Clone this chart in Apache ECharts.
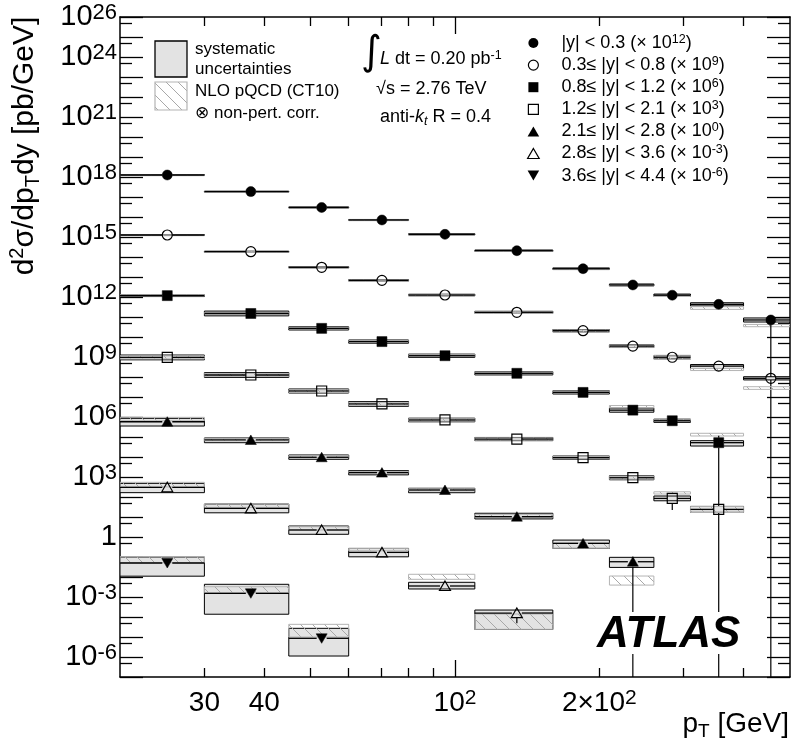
<!DOCTYPE html>
<html>
<head>
<meta charset="utf-8">
<script src="https://cdn.jsdelivr.net/npm/echarts@6/dist/echarts.min.js"></script>
<style>
html,body{margin:0;padding:0;background:#fff;}
#chart{width:793px;height:753px;}
</style>
</head>
<body>
<div id="chart"></div>
<script>
// ---------------- data ----------------
const binLo   = [20, 30, 45, 60, 80, 110, 160, 210, 260, 310, 400];
const binHi   = [30, 45, 60, 80, 110, 160, 210, 260, 310, 400, 500];
const binMean = [25.1, 37.5, 52.7, 70.4, 95.3, 134.6, 185, 235, 284, 355, 456];

const rapidityText = ['|y| < 0.3', '0.3\u2264 |y| < 0.8', '0.8\u2264 |y| < 1.2', '1.2\u2264 |y| < 2.1',
                      '2.1\u2264 |y| < 2.8', '2.8\u2264 |y| < 3.6', '3.6\u2264 |y| < 4.4'];
const scaleExp = ['12', '9', '6', '3', '0', '-3', '-6'];

// cross sections d2sigma/dpTdy [pb/GeV] (already multiplied by the scale factor)
const xs1 = [1.26e18, 1.86e17, 3.0e16, 7.1e15, 1.36e15, 2.07e14, 2.6e13, 4.0e12, 1.23e12, 4.3e11, 7.1e10];
const xs2 = [1.26e15, 1.84e14, 3.05e13, 6.8e12, 1.26e12, 1.72e11, 2.07e10, 3.5e9, 9.7e8, 3.5e8, 8.6e7];
const xs3 = [1.17e12, 1.5e11, 2.7e10, 5.9e9, 1.16e9, 1.53e8, 1.7e7, 2.2e6, 6.5e5, 5.2e4];
const xs4 = [9.5e8, 1.26e8, 2.0e7, 4.5e6, 7.1e5, 7.9e4, 9.3e3, 9.2e2, 85, 24];
const xs5 = [5.8e5, 7.1e4, 9.7e3, 1.66e3, 224, 10.4, 0.48, 0.058];
const xs6 = [305, 27, 2.24, 0.17, 3.55e-3, 1.58e-4];
const xs7 = [0.050, 1.53e-3, 8.6e-6];

// systematic uncertainties [%] (up / down)
const sysUp1 = [5, 5, 6, 6, 7, 8, 9, 12, 14, 20, 26];
const sysDn1 = [5, 5, 6, 6, 7, 8, 9, 11, 13, 17, 21];
const sysUp2 = [5, 6, 7, 8, 9, 12, 14, 16, 20, 20, 20];
const sysDn2 = [5, 6, 7, 8, 9, 11, 13, 15, 18, 24, 17];
const sysUp3 = [10, 32, 20, 20, 20, 20, 20, 26, 20, 26];
const sysDn3 = [10, 24, 17, 17, 17, 17, 17, 21, 17, 32];
const sysUp4 = [32, 32, 26, 32, 23, 20, 20, 26, 32, 41];
const sysDn4 = [24, 24, 21, 24, 19, 17, 17, 21, 24, 29];
const sysUp5 = [48, 26, 30, 26, 22, 48, 46, 66];
const sysDn5 = [39, 27, 21, 23, 27, 23, 44, 48];
const sysUp6 = [58, 64, 58, 58, 53, 41];
const sysDn6 = [46, 40, 39, 40, 29, 85];
const sysUp7 = [100, 182, 216];
const sysDn7 = [78, 91, 87];

// NLO pQCD x non-pert. corr. band, as ratio to data (low / high)
const nloLo1 = [0.92, 0.92, 0.92, 0.92, 0.92, 0.92, 0.90, 0.88, 0.86, 0.56, 0.46];
const nloHi1 = [1.02, 1.02, 1.02, 1.02, 1.02, 1.02, 1.00, 0.98, 0.96, 0.76, 0.60];
const nloLo2 = [0.92, 0.92, 0.90, 0.90, 0.90, 0.88, 0.86, 0.87, 0.79, 0.60, 0.28];
const nloHi2 = [1.03, 1.04, 1.05, 1.06, 1.06, 1.08, 1.10, 1.12, 1.26, 0.76, 0.38];
const nloLo3 = [0.95, 0.95, 0.95, 0.95, 0.95, 0.95, 0.95, 1.30, 0.95, 2.16];
const nloHi3 = [1.10, 1.12, 1.12, 1.12, 1.12, 1.15, 1.15, 1.70, 1.20, 2.95];
const nloLo4 = [0.85, 0.85, 0.85, 0.85, 0.88, 0.88, 0.88, 0.85, 1.66, 0.70];
const nloHi4 = [1.20, 1.20, 1.15, 1.20, 1.15, 1.15, 1.15, 1.20, 2.14, 1.40];
const nloLo5 = [1.12, 0.90, 0.95, 0.95, 0.90, 0.90, 0.57, 0.068];
const nloHi5 = [1.66, 1.20, 1.20, 1.15, 1.15, 1.30, 1.05, 0.193];
const nloLo6 = [1.05, 1.12, 1.00, 1.20, 2.16, 0.153];
const nloHi6 = [1.78, 1.64, 1.46, 1.58, 3.85, 0.89];
const nloLo7 = [1.03, 1.07, 1.16];
const nloHi7 = [2.07, 2.14, 5.00];

// statistical uncertainties (fraction, down / up); 1 = reaches zero
const statDn1 = [0, 0, 0, 0, 0, 0, 0, 0, 0, 0, 1];
const statUp1 = [0, 0, 0, 0, 0, 0, 0, 0, 0, 0, 0.6];
const statDn2 = [0, 0, 0, 0, 0, 0, 0, 0, 0, 0, 0];
const statUp2 = [0, 0, 0, 0, 0, 0, 0, 0, 0, 0, 0];
const statDn3 = [0, 0, 0, 0, 0, 0, 0, 0, 0, 1];
const statUp3 = [0, 0, 0, 0, 0, 0, 0, 0, 0, 1.2];
const statDn4 = [0, 0, 0, 0, 0, 0, 0, 0, 0.74, 0];
const statUp4 = [0, 0, 0, 0, 0, 0, 0, 0, 0, 0];
const statDn5 = [0, 0, 0, 0, 0, 0, 0, 1];
const statUp5 = [0, 0, 0, 0, 0, 0, 0, 0.3];
const statDn6 = [0, 0, 0, 0, 0, 0.69];
const statUp6 = [0, 0, 0, 0, 0, 0];
const statDn7 = [0, 0, 0];
const statUp7 = [0, 0, 0];

// axis tick labels
const xLabelValues = [30, 40, 100, 200];
const xMinorTicks = [30, 40, 50, 60, 70, 80, 90, 200, 300, 400];
const xMajorTicks = [100];
const yLabelValues = [1e-6, 1e-3, 1, 1e3, 1e6, 1e9, 1e12, 1e15, 1e18, 1e21, 1e24, 1e26];

const xMin = 20, xMax = 500, yMin = 1e-7, yMax = 1.00001e26;

// ---------------- style ----------------
const FONT = '"Liberation Sans", Arial, Helvetica, "DejaVu Sans", sans-serif';
const markerShape = ['circle', 'circle', 'rect', 'rect', 'triangle', 'triangle', 'triangleDown'];
const markerFilled = [true, false, true, false, true, false, true];

const yDecadeTicks = [];
const yHalfTicks = [];
for (let e = -7; e <= 26; e++) yDecadeTicks.push(Number('1e' + e));
for (let e = -7; e <= 25; e++) yHalfTicks.push(Number('5e' + e));

function makeHatch() {
  const c = document.createElement('canvas');
  c.width = 12; c.height = 12;
  const g = c.getContext('2d');
  g.strokeStyle = '#a8a8a8';
  g.lineWidth = 1;
  g.beginPath();
  g.moveTo(0, 0); g.lineTo(12, 12);
  g.moveTo(-1, 11); g.lineTo(1, 13);
  g.moveTo(11, -1); g.lineTo(13, 1);
  g.stroke();
  return c;
}
const HATCH = { image: makeHatch(), repeat: 'repeat' };

const sets = [
  [xs1, sysUp1, sysDn1, nloLo1, nloHi1, statDn1, statUp1],
  [xs2, sysUp2, sysDn2, nloLo2, nloHi2, statDn2, statUp2],
  [xs3, sysUp3, sysDn3, nloLo3, nloHi3, statDn3, statUp3],
  [xs4, sysUp4, sysDn4, nloLo4, nloHi4, statDn4, statUp4],
  [xs5, sysUp5, sysDn5, nloLo5, nloHi5, statDn5, statUp5],
  [xs6, sysUp6, sysDn6, nloLo6, nloHi6, statDn6, statUp6],
  [xs7, sysUp7, sysDn7, nloLo7, nloHi7, statDn7, statUp7]
];
const names = rapidityText.map((t, i) => t + ' (\u00d7 10^' + scaleExp[i] + ')');

function markerEl(k, cx, cy) {
  const filled = markerFilled[k];
  const st = filled ? { fill: '#000', stroke: '#000', lineWidth: 0.5 }
                    : { fill: 'none', stroke: '#000', lineWidth: 1.2 };
  const s = markerShape[k];
  if (s === 'circle') return { type: 'circle', shape: { cx: cx, cy: cy, r: 5 }, style: st };
  if (s === 'rect') return { type: 'rect', shape: { x: cx - 5, y: cy - 5, width: 10, height: 10 }, style: st };
  if (s === 'triangle') return { type: 'polygon', shape: { points: [[cx, cy - 5], [cx + 5.5, cy + 4.5], [cx - 5.5, cy + 4.5]] }, style: st };
  return { type: 'polygon', shape: { points: [[cx - 5.5, cy - 4.5], [cx + 5.5, cy - 4.5], [cx, cy + 5]] }, style: st };
}

function makeRender(k) {
  return function (params, api) {
    const x0 = api.value(0), x1 = api.value(1), xm = api.value(2), v = api.value(3);
    const su = api.value(4), sd = api.value(5), nl = api.value(6), nh = api.value(7);
    const ed = api.value(8), eu = api.value(9);
    const pl = api.coord([x0, v]), pr = api.coord([x1, v]), pc = api.coord([xm, v]);
    const ySysT = api.coord([xm, v * (1 + su)])[1];
    const ySysB = api.coord([xm, v * (1 - sd)])[1];
    const yNloT = api.coord([xm, v * nh])[1];
    const yNloB = api.coord([xm, v * nl])[1];
    const w = pr[0] - pl[0];
    const ch = [];
    ch.push({ type: 'rect', shape: { x: pl[0], y: ySysT, width: w, height: Math.max(ySysB - ySysT, 0.6) },
              style: { fill: '#e3e3e3', stroke: '#000', lineWidth: 1 } });
    ch.push({ type: 'rect', shape: { x: pl[0], y: yNloT, width: w, height: Math.max(yNloB - yNloT, 0.6) },
              style: { fill: HATCH, stroke: '#b4b4b4', lineWidth: 1 } });
    const g = 5;
    ch.push({ type: 'line', shape: { x1: pl[0], y1: pc[1], x2: pc[0] - g, y2: pc[1] }, style: { stroke: '#000', lineWidth: 1.3 } });
    ch.push({ type: 'line', shape: { x1: pc[0] + g, y1: pc[1], x2: pr[0], y2: pc[1] }, style: { stroke: '#000', lineWidth: 1.3 } });
    if (ed > 0) {
      const yb = ed >= 1 ? api.coord([xm, yMin])[1] : api.coord([xm, v * (1 - ed)])[1];
      ch.push({ type: 'line', shape: { x1: pc[0], y1: pc[1] + g, x2: pc[0], y2: yb }, style: { stroke: '#000', lineWidth: 1.2 } });
    }
    if (eu > 0) {
      const yt = api.coord([xm, v * (1 + eu)])[1];
      ch.push({ type: 'line', shape: { x1: pc[0], y1: pc[1] - g, x2: pc[0], y2: yt }, style: { stroke: '#000', lineWidth: 1.2 } });
    }
    ch.push(markerEl(k, pc[0], pc[1]));
    return { type: 'group', children: ch };
  };
}

const series = sets.map((s, k) => ({
  type: 'custom',
  name: names[k],
  coordinateSystem: 'cartesian2d',
  xAxisIndex: 0,
  yAxisIndex: 0,
  clip: true,
  itemStyle: { color: '#000' },
  renderItem: makeRender(k),
  encode: { x: [0, 1, 2], y: 3 },
  data: s[0].map((v, j) => [binLo[j], binHi[j], binMean[j], v, s[1][j] / 100, s[2][j] / 100, s[3][j], s[4][j], s[5][j], s[6][j]])
}));

const tickLine = { color: '#000', width: 1.3 };
const axisLine = { show: true, lineStyle: { color: '#000', width: 1.5 } };
const noLine = { show: false };

function xAx(pos, ticks, len, withLine, withLabel) {
  return {
    type: 'log', logBase: 10, min: xMin, max: xMax, position: pos,
    axisLine: withLine ? axisLine : noLine,
    axisTick: { show: true, inside: true, length: len, customValues: ticks, lineStyle: tickLine },
    axisLabel: withLabel ? {
      show: true, customValues: xLabelValues, margin: 11,
      formatter: function (v) {
        const r = Math.round(v);
        if (r === 100) return '{b|10}{s|2}';
        if (r === 200) return '{b|2\u00d710}{s|2}';
        return '{b|' + r + '}';
      },
      rich: {
        b: { fontFamily: FONT, fontSize: 28, lineHeight: 30, color: '#000' },
        s: { fontFamily: FONT, fontSize: 21, lineHeight: 16, verticalAlign: 'top', color: '#000' }
      }
    } : { show: false },
    splitLine: { show: false }, minorTick: { show: false }
  };
}
function yAx(pos, ticks, len, withLine, withLabel) {
  return {
    type: 'log', logBase: 10, min: yMin, max: yMax, position: pos,
    axisLine: withLine ? axisLine : noLine,
    axisTick: { show: true, inside: true, length: len, customValues: ticks, lineStyle: tickLine },
    axisLabel: withLabel ? {
      show: true, customValues: yLabelValues, margin: 3,
      formatter: function (v) {
        const e = Math.round(Math.log10(v));
        if (e === 0) return '{b|1}';
        return '{b|10}{s|' + e + '}';
      },
      rich: {
        b: { fontFamily: FONT, fontSize: 29, lineHeight: 30, color: '#000' },
        s: { fontFamily: FONT, fontSize: 22, lineHeight: 16, verticalAlign: 'top', color: '#000' }
      }
    } : { show: false },
    splitLine: { show: false }, minorTick: { show: false }
  };
}

const legendIcons = [
  'path://M0,5A5,5 0 1,1 10,5A5,5 0 1,1 0,5Z',
  'path://M0,5A5,5 0 1,1 10,5A5,5 0 1,1 0,5Z',
  'path://M0,0L10,0L10,10L0,10Z',
  'path://M0,0L10,0L10,10L0,10Z',
  'path://M5,0L10.5,9.5L-0.5,9.5Z',
  'path://M5,0L10.5,9.5L-0.5,9.5Z',
  'path://M-0.5,0L10.5,0L5,9.5Z'
];

const txt = (extra) => Object.assign({ fontFamily: FONT, fill: '#000' }, extra);

const option = {
  animation: false,
  backgroundColor: '#fff',
  textStyle: { fontFamily: FONT },
  grid: { left: 120, right: 3, top: 17, bottom: 76, containLabel: false, outerBoundsMode: 'none' },
  xAxis: [
    xAx('bottom', xMinorTicks, 9, true, true),
    xAx('bottom', xMajorTicks, 17, false, false),
    xAx('top', xMinorTicks, 9, true, false),
    xAx('top', xMajorTicks, 17, false, false)
  ],
  yAxis: [
    yAx('left', yDecadeTicks, 23, true, true),
    yAx('left', yHalfTicks, 12, false, false),
    yAx('right', yDecadeTicks, 23, true, false),
    yAx('right', yHalfTicks, 12, false, false)
  ],
  legend: {
    orient: 'vertical', left: 527, top: 33, padding: 0,
    itemWidth: 46, itemHeight: 10, itemGap: 3.1,
    symbolKeepAspect: true,
    selectedMode: false,
    data: names.map((n, i) => ({
      name: n, icon: legendIcons[i],
      itemStyle: markerFilled[i] ? { color: '#000', borderColor: '#000', borderWidth: 0 }
                                 : { color: '#fff', borderColor: '#000', borderWidth: 1.2 }
    })),
    formatter: function (name) {
      const i = names.indexOf(name);
      return '{t|' + rapidityText[i] + ' (\u00d7 10}{s|' + scaleExp[i] + '}{t|)}';
    },
    textStyle: {
      color: '#000',
      rich: {
        t: { fontFamily: FONT, fontSize: 18, lineHeight: 20, color: '#000' },
        s: { fontFamily: FONT, fontSize: 12.5, lineHeight: 12, verticalAlign: 'top', color: '#000' }
      }
    }
  },
  graphic: [
    // y axis title
    { type: 'text', x: 25, y: 146, rotation: Math.PI / 2, z: 50,
      style: txt({
        text: '{m|d}{sp|2}{m|\u03c3/dp}{sb|T}{m|dy [pb/GeV]}',
        textAlign: 'center', textVerticalAlign: 'middle', align: 'center', verticalAlign: 'middle',
        rich: {
          m: { fontFamily: FONT, fontSize: 30, lineHeight: 36, fill: '#000', color: '#000' },
          sp: { fontFamily: FONT, fontSize: 20, lineHeight: 21, verticalAlign: 'top', fill: '#000', color: '#000' },
          sb: { fontFamily: FONT, fontSize: 20, lineHeight: 21, verticalAlign: 'bottom', fill: '#000', color: '#000' }
        }
      }) },
    // x axis title
    { type: 'text', x: 789, y: 724, z: 50,
      style: txt({
        text: '{m|p}{sb|T}{m| [GeV]}',
        textAlign: 'right', textVerticalAlign: 'middle', align: 'right', verticalAlign: 'middle',
        rich: {
          m: { fontFamily: FONT, fontSize: 28, lineHeight: 34, fill: '#000', color: '#000' },
          sb: { fontFamily: FONT, fontSize: 19, lineHeight: 20, verticalAlign: 'bottom', fill: '#000', color: '#000' }
        }
      }) },
    // systematic legend box
    { type: 'rect', z: 50, shape: { x: 155, y: 41, width: 32, height: 36 },
      style: { fill: '#e3e3e3', stroke: '#000', lineWidth: 1.3 } },
    { type: 'text', z: 50, x: 195, y: 49, style: txt({ text: 'systematic', fontSize: 17, textVerticalAlign: 'middle', verticalAlign: 'middle' }) },
    { type: 'text', z: 50, x: 195, y: 69, style: txt({ text: 'uncertainties', fontSize: 17, textVerticalAlign: 'middle', verticalAlign: 'middle' }) },
    // NLO legend box
    { type: 'rect', z: 50, shape: { x: 155, y: 82, width: 32, height: 28 },
      style: { fill: HATCH, stroke: '#b4b4b4', lineWidth: 1.2 } },
    { type: 'text', z: 50, x: 195, y: 91, style: txt({ text: 'NLO pQCD (CT10)', fontSize: 17, textVerticalAlign: 'middle', verticalAlign: 'middle' }) },
    { type: 'text', z: 50, x: 195, y: 113, style: txt({ text: '\u2297 non-pert. corr.', fontSize: 17, textVerticalAlign: 'middle', verticalAlign: 'middle' }) },
    // luminosity etc.
    { type: 'text', z: 50, x: 361, y: 54, style: txt({ text: '\u222b', fontFamily: '"DejaVu Sans", sans-serif', fontSize: 40, textVerticalAlign: 'middle', verticalAlign: 'middle' }) },
    { type: 'text', z: 50, x: 380, y: 59,
      style: txt({
        text: '{i|L}{t| dt = 0.20 pb}{s|-1}', textVerticalAlign: 'middle', verticalAlign: 'middle',
        rich: {
          i: { fontFamily: FONT, fontSize: 18, fontStyle: 'italic', lineHeight: 20, fill: '#000', color: '#000' },
          t: { fontFamily: FONT, fontSize: 18, lineHeight: 20, fill: '#000', color: '#000' },
          s: { fontFamily: FONT, fontSize: 12.5, lineHeight: 12, verticalAlign: 'top', fill: '#000', color: '#000' }
        }
      }) },
    { type: 'text', z: 50, x: 376, y: 89, style: txt({ text: '\u221as = 2.76 TeV', fontSize: 18, textVerticalAlign: 'middle', verticalAlign: 'middle' }) },
    { type: 'text', z: 50, x: 380, y: 117,
      style: txt({
        text: '{t|anti-}{i|k}{sb|t}{t| R = 0.4}', textVerticalAlign: 'middle', verticalAlign: 'middle',
        rich: {
          t: { fontFamily: FONT, fontSize: 18, lineHeight: 22, fill: '#000', color: '#000' },
          i: { fontFamily: FONT, fontSize: 18, fontStyle: 'italic', lineHeight: 22, fill: '#000', color: '#000' },
          sb: { fontFamily: FONT, fontSize: 12.5, fontStyle: 'italic', lineHeight: 12, verticalAlign: 'bottom', fill: '#000', color: '#000' }
        }
      }) },
    // ATLAS label
    { type: 'rect', z: 90, shape: { x: 595, y: 612, width: 152, height: 42 }, style: { fill: '#fff', stroke: 'none' } },
    { type: 'text', z: 91, x: 597, y: 635,
      style: txt({ text: 'ATLAS', fontSize: 44, fontWeight: 'bold', fontStyle: 'italic', textVerticalAlign: 'middle', verticalAlign: 'middle' }) }
  ],
  series: series
};

const chart = echarts.init(document.getElementById('chart'), null, { renderer: 'canvas' });
chart.setOption(option);
</script>
</body>
</html>
